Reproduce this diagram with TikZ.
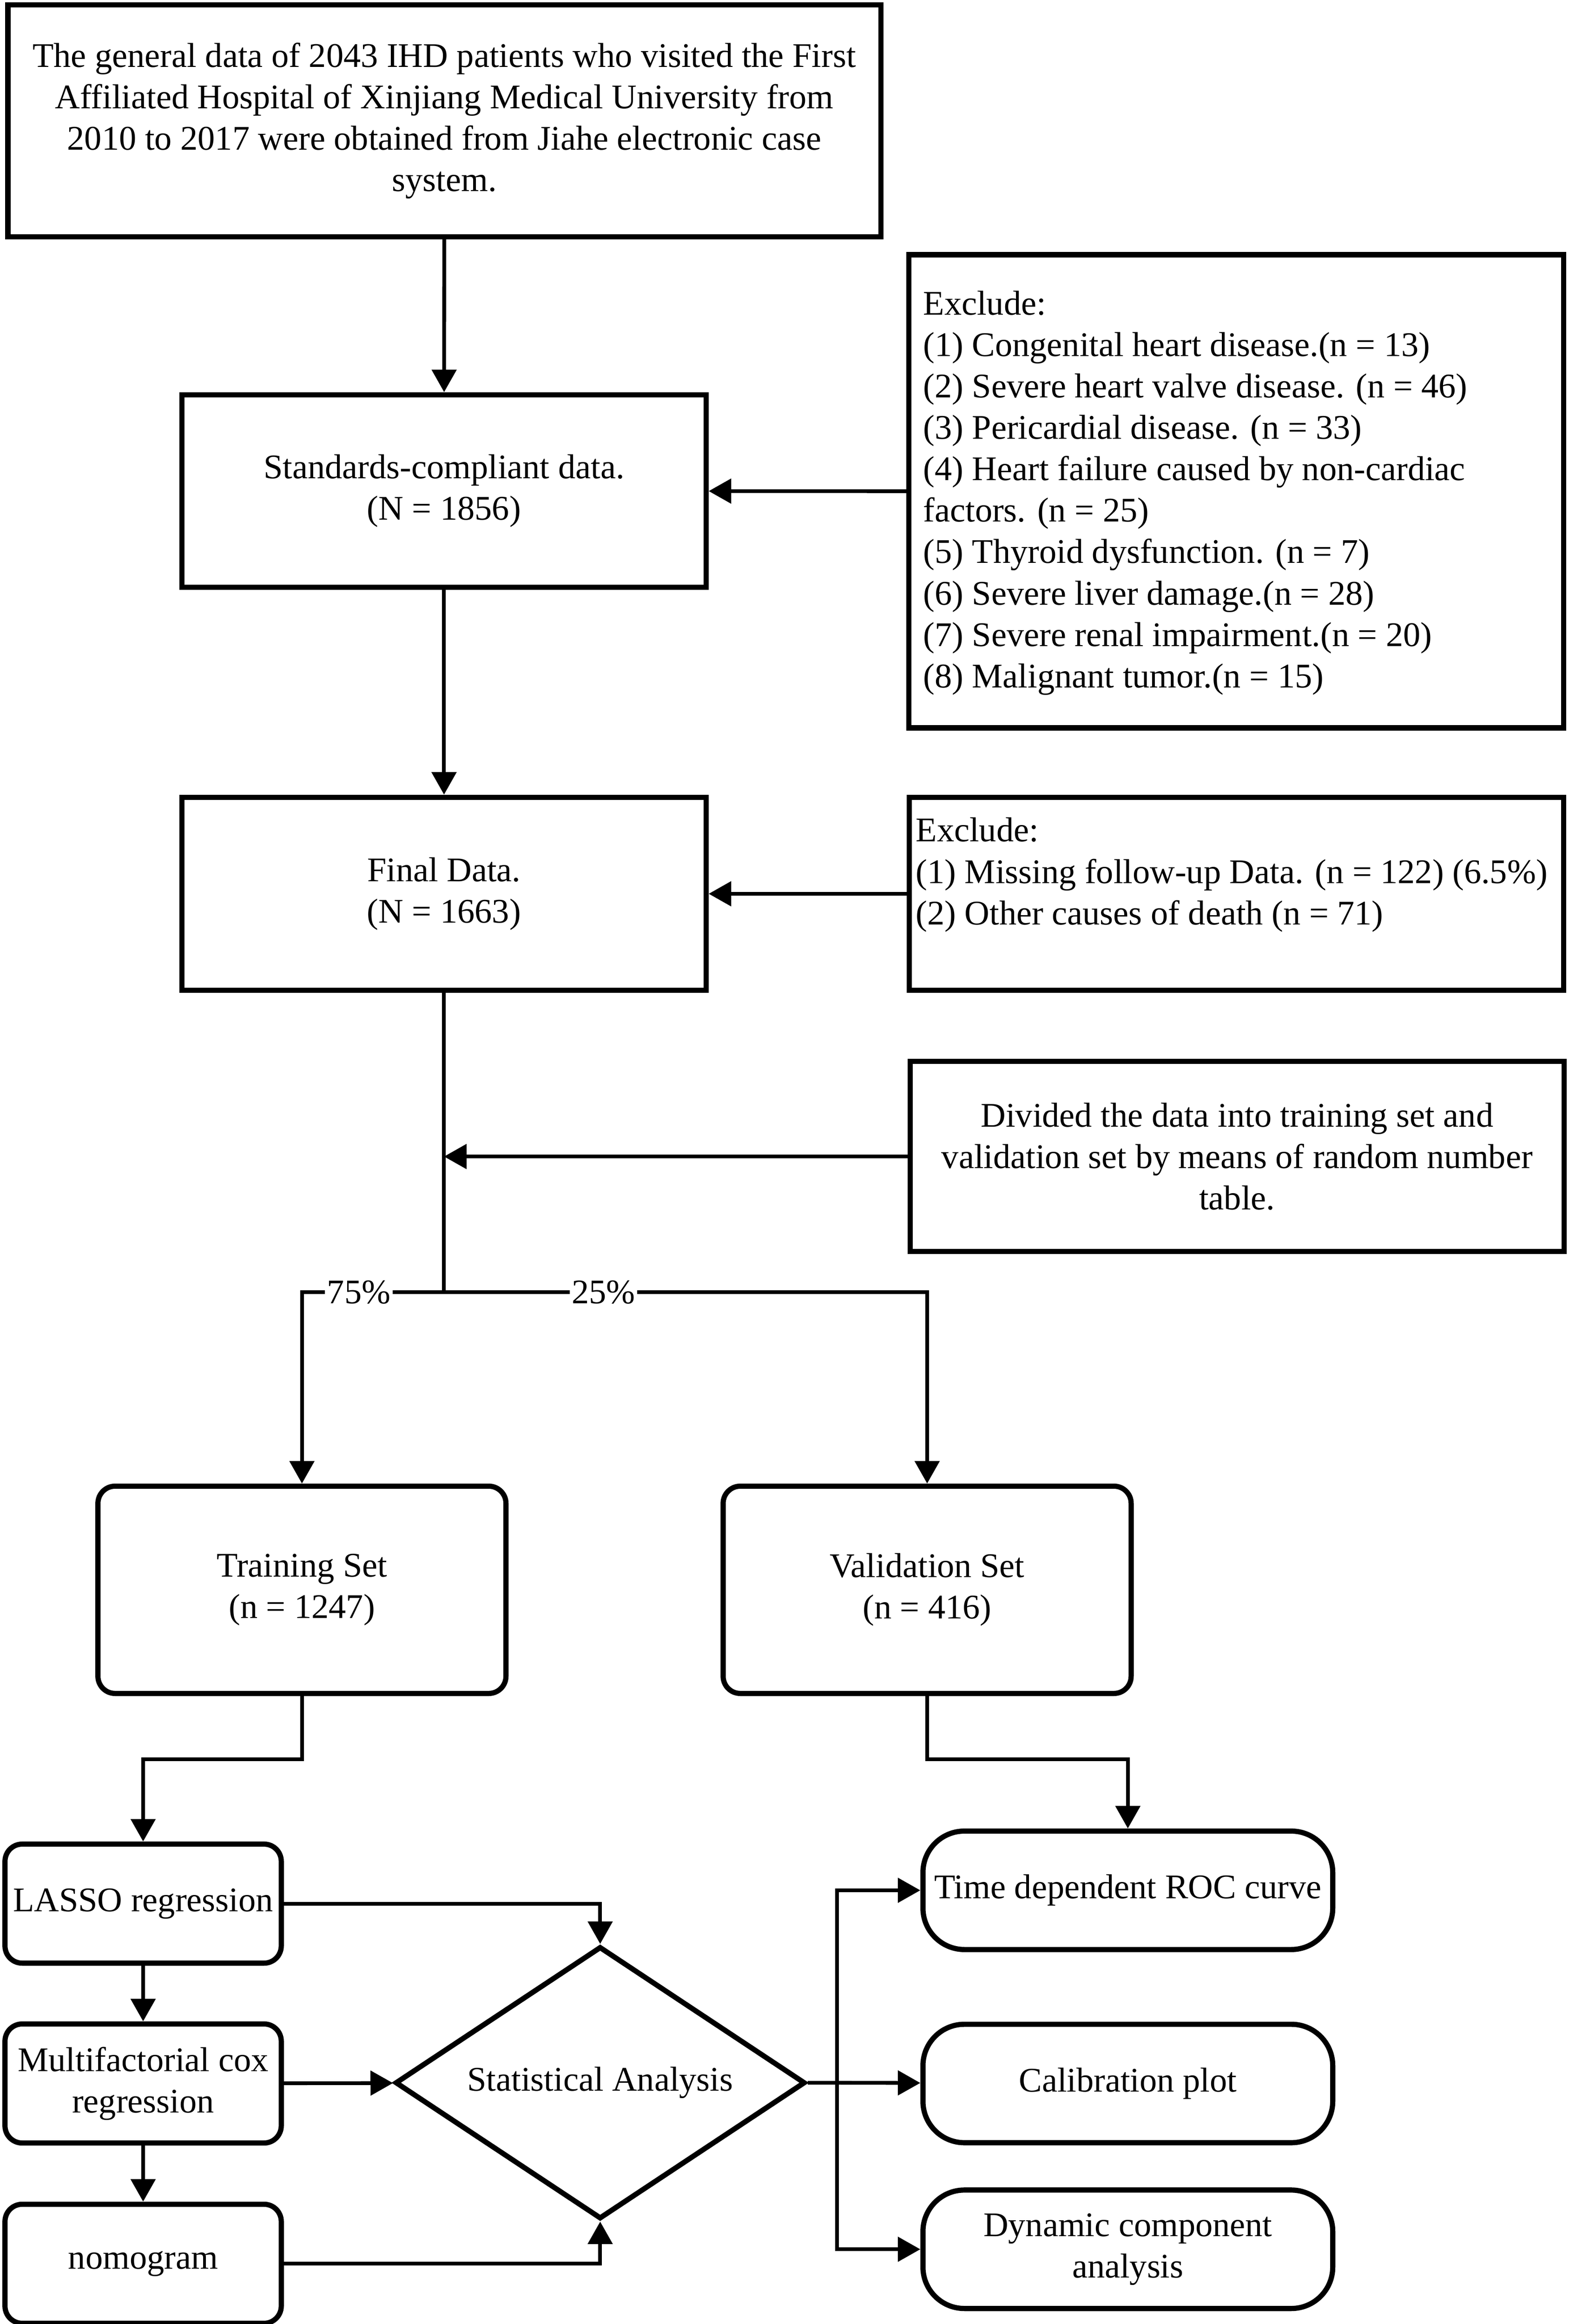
\documentclass[tikz,border=0pt]{standalone}
\usepackage{fontspec}
\setmainfont{Liberation Serif}
\usetikzlibrary{shapes.geometric, arrows.meta, positioning}

\begin{document}
\begin{tikzpicture}[
  x=0.025cm, y=-0.025cm,
  font=\fontsize{16.6pt}{19.9pt}\selectfont,
  databox/.style={
    draw=black,
    line width=2.5pt,
    align=center,
    inner sep=2pt,
  },
  notetext/.style={
    anchor=west,
    align=left,
    inner sep=0pt,
  },
  setbox/.style={
    databox,
    rounded corners=0.29cm,
    minimum width=6.89cm,
    minimum height=3.5cm,
  },
  methodbox/.style={
    databox,
    rounded corners=0.29cm,
    minimum width=4.665cm,
    minimum height=2.01cm,
  },
  resultbox/.style={
    databox,
    rounded corners=0.7cm,
    minimum width=6.92cm,
    minimum height=2cm,
  },
  analysis/.style={
    draw=black,
    line width=2.5pt,
    diamond,
    aspect=1.5,
    minimum width=6.925cm,
    minimum height=4.6cm,
    inner sep=0pt,
  },
  link/.style={
    line width=1.8pt,
    -{Triangle[length=0.38cm, width=0.41cm]},
  },
  share/.style={
    fill=white,
    inner sep=1pt,
  }
]
  \useasboundingbox (0,0) rectangle (1060,1570);

  % Source data
  \node[databox, minimum width=14.74cm, minimum height=3.92cm] (general) at (300.2,81.6)
    {The general data of 2043 IHD patients who visited the First\\
     Affiliated Hospital of Xinjiang Medical University from\\
     2010 to 2017 were obtained from Jiahe electronic case\\
     system.};

  % Standards-compliant data
  \node[databox, minimum width=8.85cm, minimum height=3.25cm] (standards) at (300,331.7)
    {Standards-compliant data.\\(N = 1856)};

  % First exclusion
  \node[databox, minimum width=11.06cm, minimum height=7.99cm] (excl-a) at (835.3,331.9) {};
  \node[notetext] (excl-a-t) at (623.5,333)
    {Exclude:\\
     (1) Congenital heart disease.(n = 13)\\
     (2) Severe heart valve disease. (n = 46)\\
     (3) Pericardial disease. (n = 33)\\
     (4) Heart failure caused by non-cardiac\\
     factors. (n = 25)\\
     (5) Thyroid dysfunction. (n = 7)\\
     (6) Severe liver damage.(n = 28)\\
     (7) Severe renal impairment.(n = 20)\\
     (8) Malignant tumor.(n = 15)};

  % Final data
  \node[databox, minimum width=8.85cm, minimum height=3.26cm] (final) at (300,603.8)
    {Final Data.\\(N = 1663)};

  % Second exclusion
  \node[databox, minimum width=11.05cm, minimum height=3.26cm] (excl-b) at (835.5,603.8) {};
  \node[notetext] (excl-b-t) at (618.5,591)
    {Exclude:\\
     (1) Missing follow-up Data. (n = 122) (6.5\%)\\
     (2) Other causes of death (n = 71)};

  % Random split
  \node[databox, minimum width=11.04cm, minimum height=3.21cm] (divide) at (835.8,781.3)
    {Divided the data into training set and\\
     validation set by means of random number\\
     table.};
  \coordinate (split) at (300,873);

  % Training and validation sets
  \node[setbox] (training) at (204,1074) {Training Set\\(n = 1247)};
  \node[setbox] (validation) at (626.4,1074) {Validation Set\\(n = 416)};
  \coordinate (train-bend) at (204,1188.5);
  \coordinate (valid-bend) at (626.4,1188.5);

  % Model building
  \node[methodbox] (lasso) at (96.7,1286) {LASSO regression};
  \node[methodbox] (cox) at (96.7,1407.5) {Multifactorial cox\\regression};
  \node[methodbox] (nomo) at (96.7,1529.3) {nomogram};

  % Statistical analysis
  \node[analysis] (stat) at (405.5,1407) {Statistical Analysis};
  \coordinate (branch) at (565.5,1407);

  % Evaluation
  \node[resultbox] (roc) at (762,1277) {Time dependent ROC curve};
  \node[resultbox] (calib) at (762,1407.5) {Calibration plot};
  \node[resultbox] (dca) at (762,1519.5) {Dynamic component\\analysis};

  % Connectors
  \draw[link] (general) -- (standards);
  \draw[link] (excl-a) -- (standards);
  \draw[link] (standards) -- (final);
  \draw[link] (excl-b) -- (final);
  \draw[line width=1.8pt] (final) -- (split);
  \draw[link] (divide) -- (divide -| split);
  \draw[link] (split) -| node[share, pos=0.3] {75\%} (training);
  \draw[link] (split) -| node[share, pos=0.165] {25\%} (validation);
  \draw[link] (training) -- (train-bend) -| (lasso);
  \draw[link] (validation) -- (valid-bend) -| (roc);
  \draw[link] (lasso) -- (cox);
  \draw[link] (cox) -- (nomo);
  \draw[link] (lasso) -| (stat);
  \draw[link] (cox) -- (stat);
  \draw[link] (nomo) -| (stat);
  \draw[line width=1.8pt] (stat) -- (branch);
  \draw[link] (branch) |- (roc);
  \draw[link] (branch) -- (calib);
  \draw[link] (branch) |- (dca);

\end{tikzpicture}
\end{document}
